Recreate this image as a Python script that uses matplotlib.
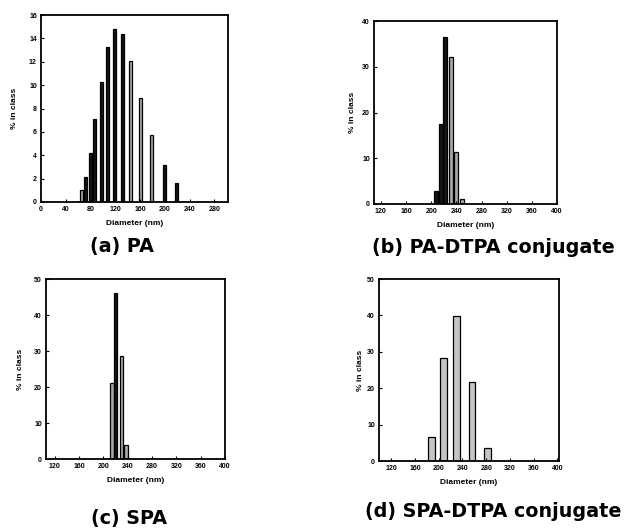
import matplotlib
matplotlib.use("Agg")
import matplotlib.pyplot as plt

plt.rcParams['font.family'] = ['Liberation Sans', 'DejaVu Sans']

# ---- data ----
pa_diam = [65, 72, 80, 87, 97, 107, 118, 131, 145, 160, 179, 199, 219]
pa_pct = [1.0, 2.1, 4.2, 7.1, 10.3, 13.3, 14.8, 14.4, 12.1, 8.9, 5.7, 3.2, 1.6]
pa_shade = ['g', 'k', 'k', 'k', 'k', 'k', 'k', 'k', 'g', 'g', 'g', 'k', 'k']

padtpa_diam = [207, 215, 222, 231, 239, 249]
padtpa_pct = [2.9, 17.4, 36.4, 32.1, 11.4, 1.2]
padtpa_shade = ['k', 'k', 'k', 'g', 'g', 'g']

spa_diam = [214, 220, 230, 237]
spa_pct = [21.0, 46.2, 28.7, 4.0]
spa_shade = ['g', 'k', 'g', 'g']

spadtpa_diam = [188, 208, 230, 256, 282]
spadtpa_pct = [6.7, 28.4, 39.8, 21.6, 3.7]
spadtpa_shade = ['s', 's', 's', 's', 's']

pa_xticks = [0, 40, 80, 120, 160, 200, 240, 280]
pa_yticks = [0, 2, 4, 6, 8, 10, 12, 14, 16]
big_xticks = [120, 160, 200, 240, 280, 320, 360, 400]
b_yticks = [0, 10, 20, 30, 40]
cd_yticks = [0, 10, 20, 30, 40, 50]

captions = ['(a) PA', '(b) PA-DTPA conjugate', '(c) SPA', '(d) SPA-DTPA conjugate']
ylabels = ['% in class', '% in class', '% in class', '% in class']
xlabel = 'Diameter (nm)'

W, H = 629, 531
fig = plt.figure(figsize=(W / 100, H / 100), dpi=100)

colors = {'k': '#141414', 'g': '#a8a8a8', 's': '#c4c4c4'}


def px_axes(x0, y0, x1, y1):
    return fig.add_axes([x0 / W, 1 - y1 / H, (x1 - x0) / W, (y1 - y0) / H])


def draw(ax, diam, pct, shade, width, xlim, xticks, ylim, yticks, ylab, ypad):
    ax.bar(diam, pct, width=width, color=[colors[s] for s in shade],
           edgecolor='black', linewidth=0.9, align='center')
    ax.set_xlim(*xlim)
    ax.set_ylim(*ylim)
    ax.set_xticks(xticks)
    ax.set_yticks(yticks)
    ax.tick_params(direction='in', length=2, width=0.8, labelsize=5, pad=3)
    for lab in ax.get_xticklabels() + ax.get_yticklabels():
        lab.set_fontweight('bold')
    for sp in ax.spines.values():
        sp.set_linewidth(1.3)
    ax.set_ylabel(ylab, fontsize=6, fontweight='bold', labelpad=ypad)
    ax.set_xlabel(xlabel, fontsize=6, fontweight='bold', labelpad=5)


ax_a = px_axes(41, 15, 228, 202)
draw(ax_a, pa_diam, pa_pct, pa_shade, 5, (0, 302), pa_xticks, (0, 16), pa_yticks, ylabels[0], 8)

ax_b = px_axes(374, 21, 557, 204)
draw(ax_b, padtpa_diam, padtpa_pct, padtpa_shade, 6, (109, 400), big_xticks, (0, 40), b_yticks, ylabels[1], 4)

ax_c = px_axes(46, 279, 225, 459)
draw(ax_c, spa_diam, spa_pct, spa_shade, 6, (106, 400), big_xticks, (0, 50), cd_yticks, ylabels[2], 7)

ax_d = px_axes(379, 279, 559, 461)
draw(ax_d, spadtpa_diam, spadtpa_pct, spadtpa_shade, 11, (99, 403), big_xticks, (0, 50), cd_yticks, ylabels[3], 2)

cap_pos = [(122, 252), (493, 253), (129, 524), (493, 517)]
for (cx, cy), txt in zip(cap_pos, captions):
    fig.text(cx / W, 1 - cy / H, txt, ha='center', va='baseline',
             fontsize=13.8, fontweight='bold', family='DejaVu Sans')

fig.savefig('out.png', dpi=100)
